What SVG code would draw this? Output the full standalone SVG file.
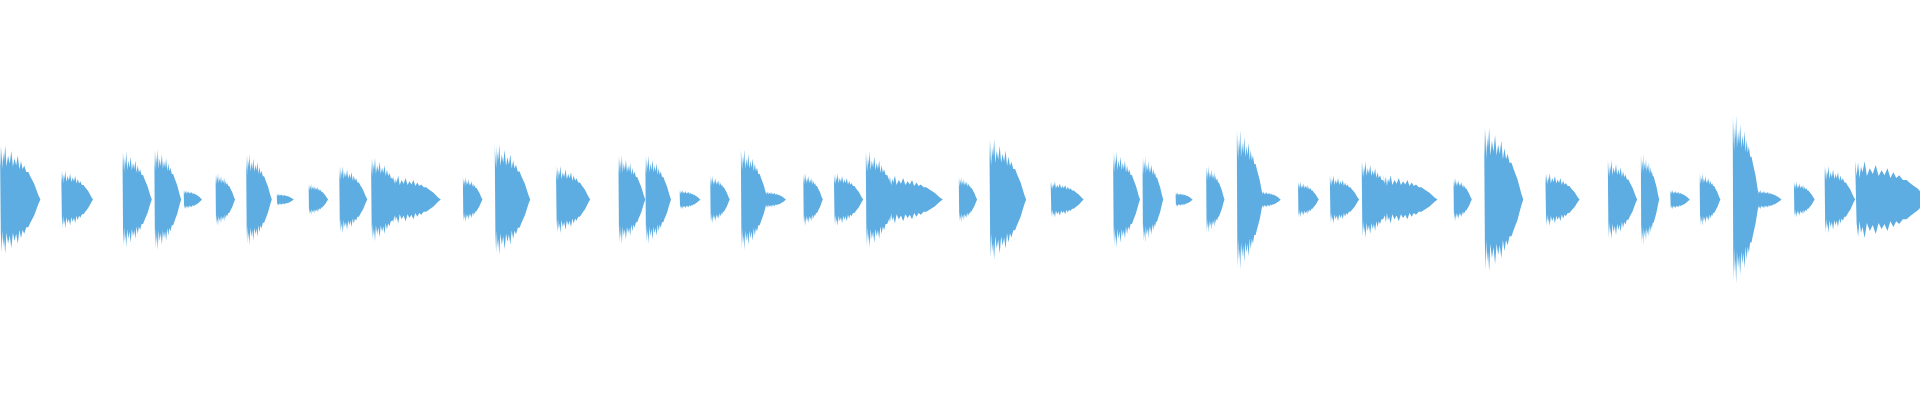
<svg xmlns="http://www.w3.org/2000/svg" width="1920" height="400" viewBox="0 0 1920 400">
<defs>
<style>.w{fill:#5DADE2}</style>
<path id="b" class="w" d="M0,-1 L.02,-.6 L.04,-.95 L.06,-.55 L.08,-.85 L.1,-.7 L.13,-.98 L.16,-.6 L.2,-.8 L.24,-.65 L.28,-.88 L.32,-.6 L.36,-.75 L.4,-.62 L.44,-.8 L.48,-.55 L.52,-.7 L.56,-.55 L.6,-.62 L.65,-.5 L.7,-.5 L.75,-.42 L.8,-.35 L.85,-.28 L.9,-.18 L.95,-.08 L1,0 L.95,.08 L.9,.18 L.85,.28 L.8,.35 L.75,.42 L.7,.5 L.65,.5 L.6,.62 L.56,.55 L.52,.7 L.48,.55 L.44,.8 L.4,.62 L.36,.75 L.32,.6 L.28,.88 L.24,.65 L.2,.8 L.16,.6 L.13,.98 L.1,.7 L.08,.85 L.06,.55 L.04,.95 L.02,.6 Z"/>
</defs>
<g transform="scale(1.2245)">
<use href="#b" transform="translate(0,163) scale(33,45)"/>
<use href="#b" transform="translate(50,163) scale(26,24)"/>
<use href="#b" transform="translate(100,163) scale(24,40)"/>
<use href="#b" transform="translate(126,163) scale(22,42)"/>
<use href="#b" transform="translate(150,163) scale(15,8)"/>
<use href="#b" transform="translate(176,163) scale(16,22)"/>
<use href="#b" transform="translate(201,163) scale(21,38)"/>
<use href="#b" transform="translate(226,163) scale(14,5)"/>
<use href="#b" transform="translate(252,163) scale(16,13)"/>
<use href="#b" transform="translate(277,163) scale(23,28)"/>
<use href="#b" transform="translate(303,163) scale(25,35)"/>
<use href="#b" transform="translate(320,163) scale(40,20)"/>
<use href="#b" transform="translate(378,163) scale(16,19)"/>
<use href="#b" transform="translate(404,163) scale(29,46)"/>
<use href="#b" transform="translate(454,163) scale(28,28)"/>
<use href="#b" transform="translate(505,163) scale(22,37)"/>
<use href="#b" transform="translate(527,163) scale(21,37)"/>
<use href="#b" transform="translate(555,163) scale(17,8)"/>
<use href="#b" transform="translate(580,163) scale(16,20)"/>
<use href="#b" transform="translate(605,163) scale(22,42)"/>
<use href="#b" transform="translate(625,163) scale(17,7)"/>
<use href="#b" transform="translate(656,163) scale(16,22)"/>
<use href="#b" transform="translate(681,163) scale(24,22)"/>
<use href="#b" transform="translate(707,163) scale(25,40)"/>
<use href="#b" transform="translate(725,163) scale(45,20)"/>
<use href="#b" transform="translate(783,163) scale(15,19)"/>
<use href="#b" transform="translate(808,163) scale(30,50)"/>
<use href="#b" transform="translate(858,163) scale(27,15)"/>
<use href="#b" transform="translate(909,163) scale(22,40)"/>
<use href="#b" transform="translate(933,163) scale(17,36)"/>
<use href="#b" transform="translate(960,163) scale(14,6)"/>
<use href="#b" transform="translate(985,163) scale(15,28)"/>
<use href="#b" transform="translate(1010,163) scale(22,58)"/>
<use href="#b" transform="translate(1030,163) scale(16,7)"/>
<use href="#b" transform="translate(1060,163) scale(17,15)"/>
<use href="#b" transform="translate(1086,163) scale(24,20)"/>
<use href="#b" transform="translate(1112,163) scale(25,32)"/>
<use href="#b" transform="translate(1130,163) scale(44,20)"/>
<use href="#b" transform="translate(1187,163) scale(15,18)"/>
<use href="#b" transform="translate(1212,163) scale(32,60)"/>
<use href="#b" transform="translate(1262,163) scale(28,22)"/>
<use href="#b" transform="translate(1313,163) scale(24,33)"/>
<use href="#b" transform="translate(1340,163) scale(15,38)"/>
<use href="#b" transform="translate(1364,163) scale(16,8)"/>
<use href="#b" transform="translate(1388,163) scale(17,22)"/>
<use href="#b" transform="translate(1415,163) scale(22,70)"/>
<use href="#b" transform="translate(1435,163) scale(20,8)"/>
<use href="#b" transform="translate(1465,163) scale(17,15)"/>
<use href="#b" transform="translate(1490,163) scale(25,28)"/>
<use href="#b" transform="translate(1515,163) scale(60,32)"/>
</g>
</svg>
